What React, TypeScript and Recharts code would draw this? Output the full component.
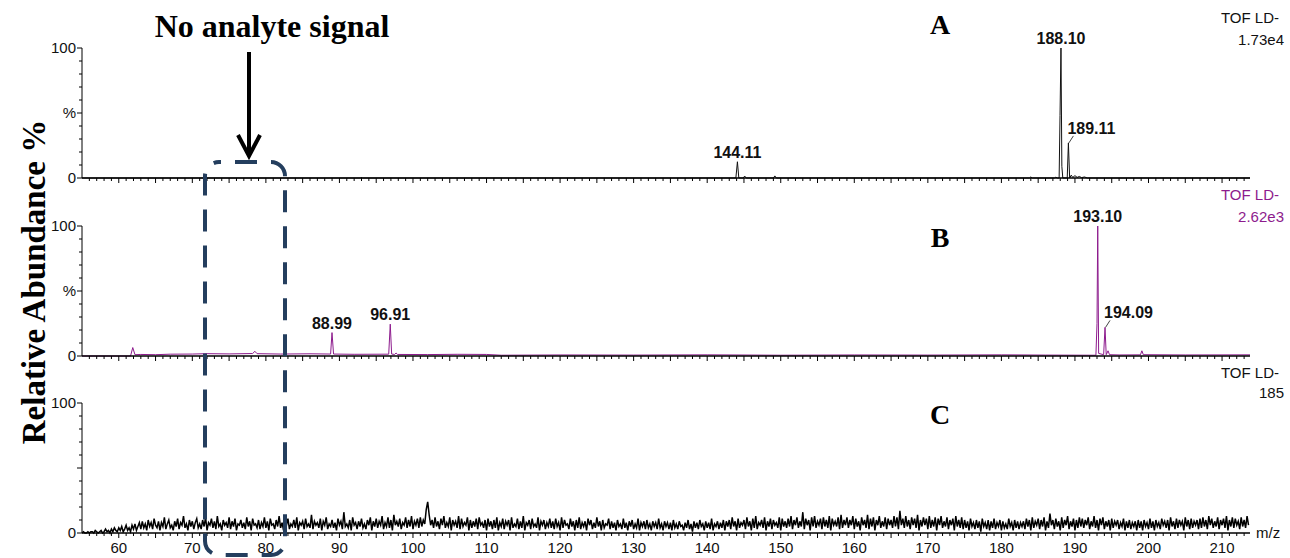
import { LineChart, Line, XAxis, YAxis, ReferenceDot } from "recharts";

const W = 1290;
const H = 558;
const MZ_MIN = 55;
const MZ_MAX = 213.8;
const MZ_LABELS = [60, 70, 80, 90, 100, 110, 120, 130, 140, 150, 160, 170, 180, 190, 200, 210];
const PCT_TICKS = [0, 10, 20, 30, 40, 50, 60, 70, 80, 90, 100];

const PURPLE = "#8d1b8d";
const NAVY = "#243e5e";
const SANS = "'Liberation Sans', Arial, sans-serif";
const SERIF = "'Liberation Serif', 'Times New Roman', serif";

// spectrum A (TOF LD- 1.73e4): [m/z, %]
const SPEC_A: [number, number][] = [
  [55, 0], [92.9, 0], [93.0, 0.6], [93.1, 0], [143.9, 0], [144.11, 12.5], [144.3, 0],
  [144.9, 0], [145.1, 1.5], [145.3, 0], [149.0, 0], [149.2, 1.6], [149.4, 0],
  [183.8, 0], [184.0, 0.8], [184.2, 0], [187.2, 0], [187.4, 0.6], [187.6, 0],
  [187.85, 0], [187.97, 48], [188.1, 100], [188.22, 9], [188.35, 0],
  [188.95, 0], [189.11, 27], [189.28, 0], [189.5, 2.2], [189.7, 0.4],
  [190.0, 1.8], [190.3, 0.5], [190.6, 1.2], [190.9, 0.3], [191.3, 0.8], [191.7, 0], [213.8, 0],
];

// spectrum B (TOF LD- 2.62e3): [m/z, %]
const SPEC_B: [number, number][] = [
  [55, 0], [61.6, 0], [61.9, 6.5], [62.2, 1], [63, 1.2], [65, 1], [67, 1.4], [70, 1.5],
  [72, 1.8], [75, 1.6], [78.2, 1.9], [78.5, 3.6], [78.8, 1.8], [82, 1.5], [86, 1.7],
  [88.8, 1.5], [88.99, 18], [89.2, 1.5], [92, 1.3], [96.7, 1.4], [96.91, 24.5], [97.1, 1.5],
  [97.5, 1.2], [97.7, 2.3], [97.9, 1.2], [102, 1.1], [106, 1.3], [110, 1.2], [112, 0.6],
  [120, 0.8], [130, 0.7], [140, 0.9], [150, 0.6], [160, 0.8], [170, 0.7], [180, 0.9],
  [186, 0.7], [192.85, 0.6], [193.0, 25], [193.1, 100], [193.22, 2], [193.9, 1],
  [194.09, 22], [194.25, 1], [194.5, 4], [194.7, 1], [196, 0.8], [198.9, 0.9],
  [199.1, 4], [199.3, 1], [205, 0.8], [213.8, 0.9],
];

// spectrum C (TOF LD- 185): noise read every 0.2 m/z from 55, one row = 8 m/z
const C_START = 55;
const C_STEP = 0.2;
const C_NOISE = [
  0, 1, 0, 0, 1, 0, 1, 1, 0, 2, 1, 0, 1, 2, 0, 1, 3, 1, 2, 0, 3, 1, 4, 2, 1, 4, 2, 5, 1, 3, 6, 2, 4, 1, 6, 3, 7, 2, 5, 8,
  3, 9, 4, 7, 2, 10, 5, 8, 3, 11, 6, 4, 9, 2, 8, 5, 12, 3, 7, 10, 4, 6, 2, 9, 5, 11, 3, 8, 6, 13, 4, 7, 2, 10, 5, 9, 3, 8, 11, 4,
  7, 3, 10, 5, 12, 2, 8, 6, 11, 4, 9, 3, 13, 5, 7, 2, 10, 6, 8, 4, 12, 3, 9, 5, 11, 2, 7, 6, 10, 4, 8, 3, 12, 5, 9, 2, 11, 6, 7, 4,
  10, 3, 8, 5, 12, 4, 9, 2, 11, 6, 7, 3, 10, 5, 13, 4, 8, 2, 9, 6, 11, 3, 7, 5, 10, 4, 12, 2, 8, 6, 9, 3, 11, 5, 7, 4, 14, 3, 9, 6,
  8, 4, 11, 2, 9, 6, 12, 3, 7, 5, 10, 4, 8, 2, 11, 6, 9, 3, 16, 5, 7, 4, 10, 2, 12, 6, 8, 3, 9, 5, 11, 4, 7, 3, 10, 6, 12, 2, 9, 5,
  11, 4, 9, 6, 13, 3, 8, 5, 12, 4, 10, 2, 14, 6, 9, 5, 11, 3, 8, 6, 12, 4, 10, 5, 13, 3, 9, 6, 11, 4, 12, 5, 10, 7, 18, 24, 14, 6, 10, 4,
  12, 5, 9, 3, 11, 6, 13, 4, 8, 5, 12, 2, 10, 6, 9, 4, 13, 3, 11, 5, 8, 6, 12, 2, 10, 4, 9, 5, 11, 3, 12, 6, 8, 4, 10, 2, 11, 5, 9, 3,
  10, 4, 12, 2, 8, 5, 11, 3, 9, 6, 10, 2, 12, 4, 7, 5, 11, 3, 9, 4, 13, 2, 8, 6, 10, 3, 11, 5, 7, 4, 12, 2, 9, 6, 10, 3, 8, 5, 11, 4,
  9, 3, 11, 5, 8, 2, 12, 4, 10, 6, 7, 3, 11, 5, 9, 2, 10, 4, 12, 3, 8, 5, 9, 2, 11, 6, 10, 3, 8, 4, 12, 5, 9, 2, 10, 4, 7, 6, 11, 3,
  9, 4, 8, 2, 10, 5, 7, 3, 11, 4, 8, 2, 9, 5, 10, 3, 7, 4, 11, 2, 8, 5, 9, 3, 10, 4, 7, 2, 9, 5, 8, 3, 11, 4, 7, 2, 9, 5, 8, 3,
  8, 2, 10, 4, 7, 3, 9, 5, 6, 2, 8, 4, 10, 3, 7, 1, 9, 4, 8, 3, 10, 5, 7, 2, 9, 4, 8, 3, 11, 2, 7, 5, 9, 3, 8, 4, 10, 2, 9, 5,
  10, 3, 12, 5, 9, 2, 11, 4, 8, 6, 10, 3, 12, 5, 9, 2, 11, 4, 13, 3, 8, 6, 10, 4, 12, 2, 9, 5, 11, 3, 10, 6, 8, 4, 12, 2, 11, 5, 9, 4,
  11, 5, 13, 3, 10, 6, 12, 4, 9, 5, 16, 3, 11, 6, 10, 2, 12, 5, 13, 4, 9, 6, 11, 3, 12, 5, 10, 4, 13, 2, 11, 6, 9, 5, 12, 3, 14, 4, 10, 6,
  12, 4, 10, 6, 13, 3, 11, 5, 9, 2, 12, 6, 10, 4, 14, 3, 11, 5, 12, 2, 10, 6, 13, 4, 9, 5, 12, 3, 11, 6, 10, 4, 13, 5, 12, 3, 17, 6, 11, 4,
  13, 5, 10, 3, 12, 6, 11, 4, 14, 2, 10, 5, 12, 6, 11, 3, 13, 4, 10, 5, 12, 2, 11, 6, 13, 4, 9, 5, 12, 3, 10, 6, 11, 2, 13, 5, 10, 4, 12, 3,
  10, 4, 9, 2, 11, 5, 8, 3, 10, 4, 9, 1, 11, 5, 8, 3, 10, 2, 9, 4, 11, 3, 8, 5, 10, 2, 9, 4, 7, 3, 11, 5, 8, 2, 10, 4, 9, 3, 8, 5,
  9, 3, 11, 5, 10, 2, 12, 4, 9, 6, 11, 3, 10, 5, 12, 2, 9, 4, 15, 6, 10, 3, 11, 5, 9, 2, 12, 4, 10, 6, 13, 3, 9, 5, 11, 2, 10, 4, 12, 5,
  11, 4, 10, 6, 12, 3, 9, 5, 13, 4, 10, 2, 11, 6, 12, 3, 9, 5, 10, 2, 11, 4, 9, 6, 10, 3, 8, 5, 11, 2, 9, 4, 10, 3, 8, 5, 9, 2, 10, 4,
  9, 2, 10, 5, 8, 3, 11, 4, 9, 2, 10, 5, 8, 3, 11, 6, 9, 4, 10, 2, 12, 5, 9, 3, 11, 4, 10, 6, 9, 2, 12, 5, 10, 3, 11, 4, 9, 6, 10, 3,
  11, 4, 12, 5, 10, 3, 13, 6, 11, 4, 9, 5, 12, 3, 10, 6, 11, 4, 13, 2, 10, 5, 12, 4, 11, 6, 9, 3, 12, 5, 10, 4, 13, 6,
];

type Peak = { mz: number; pct: number; text: string; leader?: boolean };
const PEAKS_A: Peak[] = [
  { mz: 144.11, pct: 12.5, text: "144.11" },
  { mz: 188.1, pct: 100, text: "188.10" },
  { mz: 189.11, pct: 27, text: "189.11", leader: true },
];
const PEAKS_B: Peak[] = [
  { mz: 88.99, pct: 18, text: "88.99" },
  { mz: 96.91, pct: 24.5, text: "96.91" },
  { mz: 193.1, pct: 100, text: "193.10" },
  { mz: 194.09, pct: 22, text: "194.09", leader: true },
];

const MZ_TICKS = Array.from({ length: 158 }, (_, i) => 56 + i);

const toRows = (pairs: [number, number][]) => pairs.map(([mz, pct]) => ({ mz, pct }));
const DATA_A = toRows(SPEC_A);
const DATA_B = toRows(SPEC_B);
const DATA_C = C_NOISE.map((pct, i) => ({ mz: C_START + i * C_STEP, pct }));

const MzTick = ({ x, y, payload, showLabel }: any) => {
  const v = payload.value;
  const major = v % 5 === 0;
  return (
    <g>
      <line x1={x} x2={x} y1={y} y2={y + (major ? 5 : 3)} stroke="#000" strokeWidth={1} />
      {showLabel && MZ_LABELS.includes(v) ? (
        <text x={x} y={y + 20} textAnchor="middle" fontSize={15} fontFamily={SANS} fill="#111">
          {v}
        </text>
      ) : null}
    </g>
  );
};

const PctTick = ({ x, y, payload, labels }: any) => {
  const v = payload.value;
  const major = v % 50 === 0;
  const label = labels[v];
  return (
    <g>
      <line x1={x - (major ? 5 : 3)} x2={x} y1={y} y2={y} stroke="#000" strokeWidth={1} />
      {label ? (
        <text x={x - 6} y={y + 5} textAnchor="end" fontSize={15} fontFamily={SANS} fill="#111">
          {label}
        </text>
      ) : null}
    </g>
  );
};

const PeakTag = ({ viewBox, text, leader }: any) => {
  if (!viewBox) return null;
  const cx = viewBox.x + viewBox.width / 2;
  const cy = viewBox.y + viewBox.height / 2;
  const style = { fontSize: 16, fontWeight: 700, fontFamily: SANS, fill: "#111" };
  if (leader) {
    return (
      <g>
        <line x1={cx + 0.5} y1={cy} x2={cx + 5} y2={cy - 7} stroke="#444" strokeWidth={1} />
        <text x={cx - 1} y={cy - 9} textAnchor="start" {...style}>
          {text}
        </text>
      </g>
    );
  }
  return (
    <text x={cx} y={cy - 4} textAnchor="middle" {...style}>
      {text}
    </text>
  );
};

type PanelProps = {
  top: number;
  data: { mz: number; pct: number }[];
  color: string;
  peaks: Peak[];
  yLabels: Record<number, string>;
  showX?: boolean;
  lineWidth?: number;
};

const Panel = ({ top, data, color, peaks, yLabels, showX, lineWidth = 1 }: PanelProps) => (
  <div style={{ position: "absolute", left: 0, top }}>
    <LineChart
      width={W}
      height={showX ? 203 : 188}
      data={data}
      margin={{ top: 48, right: 40, left: 0, bottom: 0 }}
    >
      <XAxis
        type="number"
        dataKey="mz"
        domain={[MZ_MIN, MZ_MAX]}
        ticks={MZ_TICKS}
        interval={0}
        height={showX ? 25 : 10}
        tickSize={0}
        tickMargin={0}
        tickLine={false}
        axisLine={{ stroke: "#000", strokeWidth: 1.5 }}
        tick={<MzTick showLabel={showX} />}
        allowDataOverflow
      />
      <YAxis
        type="number"
        domain={[0, 100]}
        ticks={PCT_TICKS}
        interval={0}
        width={82}
        tickSize={0}
        tickMargin={0}
        tickLine={false}
        axisLine={{ stroke: "#000", strokeWidth: 1 }}
        tick={<PctTick labels={yLabels} />}
      />
      <Line
        dataKey="pct"
        type="linear"
        stroke={color}
        strokeWidth={lineWidth}
        dot={false}
        isAnimationActive={false}
      />
      {peaks.map((p) => (
        <ReferenceDot
          key={p.text}
          x={p.mz}
          y={p.pct}
          r={1}
          fill="none"
          stroke="none"
          label={<PeakTag text={p.text} leader={p.leader} />}
        />
      ))}
    </LineChart>
  </div>
);

const Overlay = () => (
  <svg
    width={W}
    height={H}
    style={{ position: "absolute", left: 0, top: 0, pointerEvents: "none" }}
  >
    <text
      transform="translate(45,282) rotate(-90)"
      textAnchor="middle"
      fontFamily={SERIF}
      fontWeight={700}
      fontSize={33}
      fill="#000"
    >
      Relative Abundance %
    </text>
    <text x={272} y={37} textAnchor="middle" fontFamily={SERIF} fontWeight={700} fontSize={32} fill="#000">
      No analyte signal
    </text>
    <line x1={249} y1={52} x2={249} y2={154} stroke="#000" strokeWidth={4} />
    <polyline points="238,135 249,156 260,135" fill="none" stroke="#000" strokeWidth={4} />
    <rect
      x={205}
      y={162}
      width={80}
      height={393}
      rx={14}
      fill="none"
      stroke={NAVY}
      strokeWidth={4}
      strokeDasharray="22 14"
      strokeDashoffset={20}
    />

    <text x={940} y={34} textAnchor="middle" fontFamily={SERIF} fontWeight={700} fontSize={28}>A</text>
    <text x={940} y={247} textAnchor="middle" fontFamily={SERIF} fontWeight={700} fontSize={28}>B</text>
    <text x={940} y={424} textAnchor="middle" fontFamily={SERIF} fontWeight={700} fontSize={28}>C</text>

    <g fontFamily={SANS} fontSize={15} textAnchor="end">
      <text x={1279} y={23} fill="#111">TOF LD-</text>
      <text x={1284} y={45} fill="#111">1.73e4</text>
      <text x={1279} y={200} fill={PURPLE}>TOF LD-</text>
      <text x={1284} y={222} fill={PURPLE}>2.62e3</text>
      <text x={1279} y={378} fill="#111">TOF LD-</text>
      <text x={1284} y={398} fill="#111">185</text>
    </g>
    <text x={1256} y={538} fontFamily={SANS} fontSize={15} fill="#111">m/z</text>
  </svg>
);

export default function App() {
  return (
    <div
      style={{
        position: "absolute",
        left: 0,
        top: 0,
        width: W,
        height: H,
        background: "#fff",
        overflow: "hidden",
      }}
    >
      <Panel top={0} data={DATA_A} color="#111" peaks={PEAKS_A} yLabels={{ 0: "0", 50: "%", 100: "100" }} />
      <Panel top={178} data={DATA_B} color={PURPLE} peaks={PEAKS_B} yLabels={{ 0: "0", 50: "%", 100: "100" }} />
      <Panel
        top={355}
        data={DATA_C}
        color="#000"
        peaks={[]}
        yLabels={{ 0: "0", 100: "100" }}
        showX
        lineWidth={1.5}
      />
      <Overlay />
    </div>
  );
}
